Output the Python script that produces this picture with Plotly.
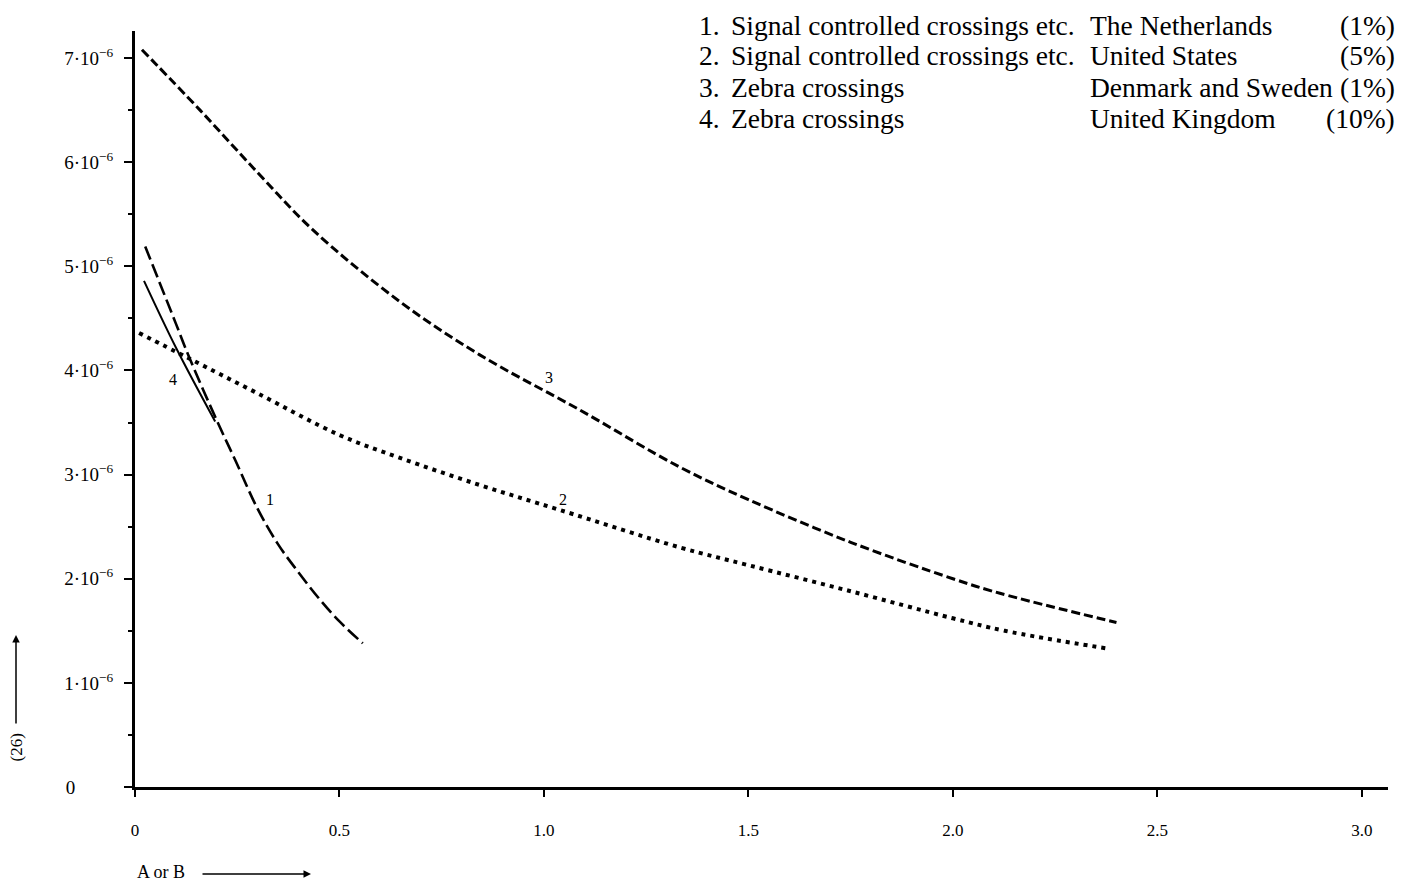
import plotly.graph_objects as go

# ---- data ----
c1_x = [0.025, 0.1, 0.13, 0.2, 0.245, 0.3, 0.35, 0.4, 0.45, 0.5, 0.557]
c1_y = [5.19, 4.45, 4.15, 3.52, 3.14, 2.67, 2.33, 2.06, 1.81, 1.59, 1.38]

c2_x = [0.01, 0.13, 0.3, 0.5, 0.648, 0.843, 1.039, 1.333, 1.5, 1.75, 2.0, 2.127, 2.377]
c2_y = [4.36, 4.12, 3.78, 3.38, 3.16, 2.90, 2.66, 2.30, 2.13, 1.88, 1.62, 1.50, 1.33]

c3_x = [0.017, 0.159, 0.3, 0.435, 0.648, 0.843, 1.088, 1.333, 1.5, 1.75, 2.0, 2.115, 2.40]
c3_y = [7.08, 6.50, 5.90, 5.35, 4.66, 4.15, 3.62, 3.07, 2.76, 2.35, 2.00, 1.86, 1.58]

c4_x = [0.022, 0.1, 0.196]
c4_y = [4.86, 4.22, 3.51]

scale = 1e-6

curve_labels = ["1", "2", "3", "4"]
label_x = [0.33, 1.046, 1.012, 0.093]
label_y = [2.76, 2.76, 3.93, 3.91]

y_tickvals = [0, 1, 2, 3, 4, 5, 6, 7]
y_ticktext = ["0" + "\u00a0" * 8] + [f"{v}·10<sup>−6</sup>" for v in y_tickvals[1:]]
x_tickvals = [0, 0.5, 1.0, 1.5, 2.0, 2.5, 3.0]
x_ticktext = ["0", "0.5", "1.0", "1.5", "2.0", "2.5", "3.0"]

legend_num = ["1.", "2.", "3.", "4."]
legend_desc = ["Signal controlled crossings etc.", "Signal controlled crossings etc.",
               "Zebra crossings", "Zebra crossings"]
legend_country = ["The Netherlands", "United States", "Denmark and Sweden", "United Kingdom"]
legend_pct = ["(1%)", "(5%)", "(1%)", "(10%)"]

# ---- figure ----
W, H = 1405, 889
ML, MR, MT, MB = 135, 17, 31, 102
FONT = "Liberation Serif"

fig = go.Figure()
fig.add_trace(go.Scatter(x=c1_x, y=[v * scale for v in c1_y], mode="lines",
                         line=dict(color="black", width=2.6, dash="14px,5px", shape="spline")))
fig.add_trace(go.Scatter(x=c2_x, y=[v * scale for v in c2_y], mode="lines",
                         line=dict(color="black", width=4, dash="4px,5px", shape="spline")))
fig.add_trace(go.Scatter(x=c3_x, y=[v * scale for v in c3_y], mode="lines",
                         line=dict(color="black", width=3, dash="9px,4px", shape="spline")))
fig.add_trace(go.Scatter(x=c4_x, y=[v * scale for v in c4_y], mode="lines",
                         line=dict(color="black", width=2, shape="spline")))

for t, lx, ly in zip(curve_labels, label_x, label_y):
    fig.add_annotation(x=lx, y=ly * scale, xref="x", yref="y", text=t, showarrow=False,
                       font=dict(family=FONT, size=16, color="black"))

pw = W - ML - MR
ph = H - MT - MB


def px(xp):
    return (xp - ML) / pw


def py(yp):
    return (H - MB - yp) / ph


LF = 27.5
row_y = [25, 56, 87, 118]
for i in range(4):
    fig.add_annotation(x=px(697), y=py(row_y[i]), xref="paper", yref="paper",
                       text=legend_num[i], showarrow=False,
                       xanchor="left", yanchor="middle",
                       font=dict(family=FONT, size=LF, color="black"))
    fig.add_annotation(x=px(729), y=py(row_y[i]), xref="paper", yref="paper",
                       text=legend_desc[i], showarrow=False,
                       xanchor="left", yanchor="middle",
                       font=dict(family=FONT, size=LF, color="black"))
    fig.add_annotation(x=px(1088), y=py(row_y[i]), xref="paper", yref="paper",
                       text=legend_country[i], showarrow=False,
                       xanchor="left", yanchor="middle",
                       font=dict(family=FONT, size=LF, color="black"))
    fig.add_annotation(x=px(1397), y=py(row_y[i]), xref="paper", yref="paper",
                       text=legend_pct[i], showarrow=False,
                       xanchor="right", yanchor="middle",
                       font=dict(family=FONT, size=LF, color="black"))

# axis captions with arrows
fig.add_annotation(x=px(135), y=py(884), xref="paper", yref="paper", text="A or B",
                   showarrow=False, xanchor="left", font=dict(family=FONT, size=18, color="black"))
fig.add_annotation(x=px(311), y=py(874), xref="paper", yref="paper", text="",
                   showarrow=True, ax=-110, ay=0, arrowhead=2, arrowsize=1, arrowwidth=1.5,
                   arrowcolor="black")
fig.add_annotation(x=px(4), y=py(764), xref="paper", yref="paper", text="(26)",
                   showarrow=False, textangle=-90, font=dict(family=FONT, size=17, color="black"))
fig.add_annotation(x=px(16), y=py(635), xref="paper", yref="paper", text="",
                   showarrow=True, ax=0, ay=90, arrowhead=2, arrowsize=1, arrowwidth=1.5,
                   arrowcolor="black")

fig.update_layout(
    width=W, height=H,
    margin=dict(l=ML, r=MR, t=MT, b=MB),
    paper_bgcolor="white", plot_bgcolor="white",
    showlegend=False,
    font=dict(family=FONT, color="black"),
)
fig.update_xaxes(range=[0, 3.064], showgrid=False, zeroline=False,
                 showline=True, linecolor="black", linewidth=3,
                 tickmode="array", tickvals=x_tickvals, ticktext=x_ticktext,
                 ticks="outside", ticklen=7, tickwidth=2, tickcolor="black",
                 ticklabelstandoff=19,
                 tickfont=dict(family=FONT, size=17, color="black"))
fig.update_yaxes(range=[0, 7.26e-6], showgrid=False, zeroline=False,
                 showline=True, linecolor="black", linewidth=3,
                 tickmode="array", tickvals=[v * scale for v in y_tickvals], ticktext=y_ticktext,
                 ticks="outside", ticklen=8, tickwidth=2, tickcolor="black",
                 ticklabelstandoff=7,
                 minor=dict(tick0=0, dtick=0.5e-6, ticks="outside", ticklen=4,
                            tickwidth=2, tickcolor="black"),
                 tickfont=dict(family=FONT, size=19, color="black"))

fig.write_html("out.html")
